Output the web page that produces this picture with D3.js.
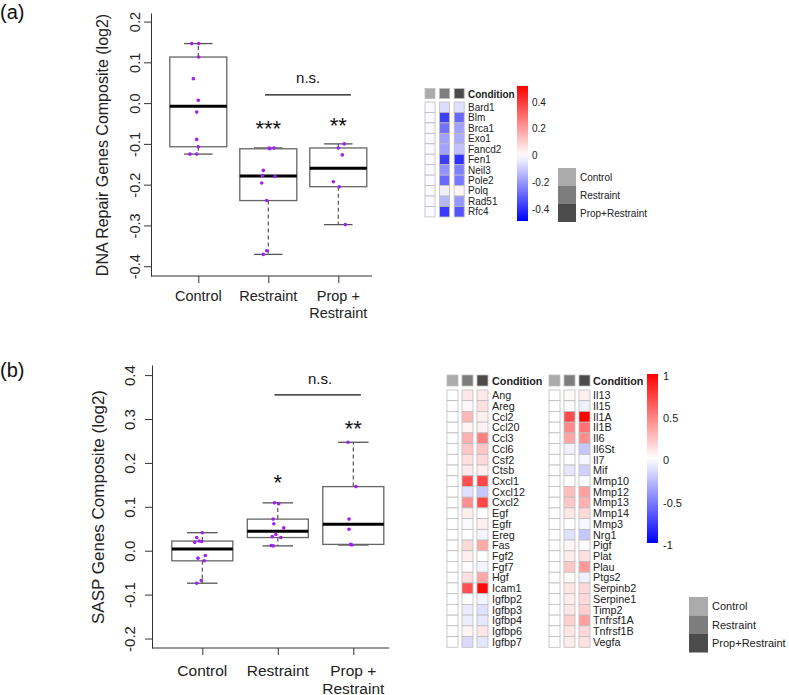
<!DOCTYPE html>
<html><head><meta charset="utf-8">
<script src="https://cdn.jsdelivr.net/npm/d3@7"></script>
<style>body{margin:0;background:#fff}</style>
</head><body><svg id="c" width="789" height="695"></svg>
<script>
// ---------------- DATA ----------------
const groupLabels = [["Control"], ["Restraint"], ["Prop +", "Restraint"]];

// Panel (a): DNA repair composite (log2), per-animal points
const dnaControl   = [0.146, 0.146, 0.113, 0.060, 0.007, -0.022, -0.089, -0.107, -0.125, -0.125];
const dnaRestraint = [-0.110, -0.110, -0.112, -0.165, -0.178, -0.180, -0.196, -0.239, -0.362, -0.371];
const dnaProp      = [-0.100, -0.110, -0.127, -0.193, -0.205, -0.298];
// horizontal jitter of the points (category units)
const dnaJitterControl   = [-0.094, 0.006, 0.006, -0.071, 0, -0.023, -0.023, 0, -0.119, -0.023];
const dnaJitterRestraint = [0.014, 0.081, 0.02, -0.071, -0.086, 0.096, -0.094, -0.023, -0.023, -0.071];
const dnaJitterProp      = [0.086, 0, 0.057, -0.071, 0.014, 0.1];
const dnaTicks = [-0.4, -0.3, -0.2, -0.1, 0.0, 0.1, 0.2];

// Panel (b): SASP composite (log2)
const saspControl   = [0.041, 0.030, 0.022, 0.019, 0.021, -0.011, -0.017, -0.023, -0.068, -0.074];
const saspRestraint = [0.109, 0.107, 0.072, 0.0615, 0.052, 0.037, 0.032, 0.030, 0.012, 0.011];
const saspProp      = [0.247, 0.146, 0.072, 0.049, 0.0144, 0.013];
const saspJitterControl   = [0, -0.074, -0.04, -0.1, -0.008, 0.04, -0.057, 0.026, -0.013, -0.074];
const saspJitterRestraint = [-0.044, 0.013, -0.061, -0.053, 0.079, -0.026, -0.074, 0.04, -0.087, -0.061];
const saspJitterProp      = [-0.07, 0.035, -0.057, -0.057, -0.035, -0.018];
const saspTicks = [-0.2, -0.1, 0.0, 0.1, 0.2, 0.3, 0.4];

// Significance labels
const dnaSig  = ["", "***", "**"];
const saspSig = ["", "*", "**"];

// Heatmap (a)
const dnaGenes = ["Bard1","Blm","Brca1","Exo1","Fancd2","Fen1","Neil3","Pole2","Polq","Rad51","Rfc4"];
const dnaHeatControl   = [-0.01,-0.01,-0.01,-0.01,-0.01,-0.01,-0.01,-0.01,-0.01,-0.01,-0.01];
const dnaHeatRestraint = [-0.067,-0.37,-0.27,-0.18,-0.18,-0.37,-0.21,-0.29,-0.03,-0.14,-0.38];
const dnaHeatProp      = [-0.06,-0.29,-0.18,-0.16,-0.12,-0.40,-0.245,-0.26,0.02,-0.20,-0.33];
const dnaScaleTicks = [0.4, 0.2, 0, -0.2, -0.4];

// Heatmap (b)
const saspGenesLeft  = ["Ang","Areg","Ccl2","Ccl20","Ccl3","Ccl6","Csf2","Ctsb","Cxcl1","Cxcl12","Cxcl2","Egf",
                        "Egfr","Ereg","Fas","Fgf2","Fgf7","Hgf","Icam1","Igfbp2","Igfbp3","Igfbp4","Igfbp6","Igfbp7"];
const saspGenesRight = ["Il13","Il15","Il1A","Il1B","Il6","Il6St","Il7","Mif","Mmp10","Mmp12","Mmp13","Mmp14",
                        "Mmp3","Nrg1","Pigf","Plat","Plau","Ptgs2","Serpinb2","Serpine1","Timp2","Tnfrsf1A","Tnfrsf1B","Vegfa"];
const saspHeatControlLeft    = [0,0,0,0,0,0,0,0,0,0,0,0,0,0,0,0,0,0,0,0,0,0,0,0];
const saspHeatRestraintLeft  = [0.09,0.03,0.28,0.04,0.31,0.22,0.12,0.08,0.69,-0.12,0.44,0.06,
                                -0.02,0.0,0.15,0.06,-0.01,0.12,0.69,0.0,-0.07,-0.07,0.04,-0.15];
const saspHeatPropLeft       = [0.09,0.12,0.06,0.05,0.50,0.22,0.15,0.06,0.72,-0.22,0.72,0.0,
                                0.06,-0.04,0.34,0.0,-0.04,0.34,0.97,-0.04,-0.12,-0.10,0.10,-0.10];
const saspHeatControlRight   = [0,0,0,0,0,0,0,0,0,0,0,0,0,0,0,0,0,0,0,0,0,0,0,0];
const saspHeatRestraintRight = [0.02,-0.02,0.70,0.45,0.35,-0.05,0.0,-0.10,0.0,0.25,0.22,0.10,
                                0.0,-0.12,0.03,0.08,0.22,0.02,0.10,0.08,0.10,0.18,0.10,0.08];
const saspHeatPropRight      = [0.06,-0.06,1.0,0.56,0.44,-0.22,-0.03,-0.18,-0.01,0.37,0.31,0.15,
                                -0.03,-0.22,-0.01,0.12,0.40,-0.06,0.15,0.15,0.18,0.37,0.15,0.12];
const saspScaleTicks = [1, 0.5, 0, -0.5, -1];

const conditionNames  = ["Control", "Restraint", "Prop+Restraint"];
const conditionColors = ["#ababab", "#7d7d7d", "#4b4b4b"];

// ---------------- DRAWING ----------------
const FONT = '"Liberation Sans", Arial, Helvetica, sans-serif';
const svg = d3.select("#c").attr("font-family", FONT);

function fivenum(arr) {
  const x = arr.slice().sort(d3.ascending), n = x.length;
  const n4 = Math.floor((n + 3) / 2) / 2;
  const d = [1, n4, (n + 1) / 2, n + 1 - n4, n];
  return d.map(v => 0.5 * (x[Math.floor(v) - 1] + x[Math.ceil(v) - 1]));
}

function boxPanel(cfg) {
  const g = svg.append("g");
  const y = d3.scaleLinear().domain(cfg.yDomain).range(cfg.yRange);
  const x = d3.scaleLinear().domain([0, 2]).range(cfg.xCenters);

  // panel letter
  g.append("text").attr("x", 0).attr("y", cfg.letterY).attr("font-size", 20).attr("fill", "#111").text(cfg.letter);

  // y axis
  const ya = d3.axisLeft(y).tickValues(cfg.ticks).tickSize(7).tickSizeOuter(0).tickFormat(d => d.toFixed(1));
  const gy = g.append("g").attr("transform", `translate(${cfg.axisX},0)`).call(ya)
    .attr("font-family", FONT).attr("font-size", cfg.tickFs);
  gy.select(".domain").attr("stroke", "#333");
  gy.selectAll(".tick line").attr("stroke", "#333");
  gy.selectAll(".tick text").attr("x", null).attr("dy", null).attr("text-anchor", "middle").attr("fill", "#222")
    .attr("transform", `translate(${cfg.yLabOff},0) rotate(-90)`);

  // y title
  g.append("text").attr("transform", `translate(${cfg.titleX},${cfg.titleY}) rotate(-90)`)
    .attr("text-anchor", "middle").attr("font-size", cfg.titleFs).attr("fill", "#222").text(cfg.title);

  // x axis
  const ax = d3.axisBottom(x).tickValues([0, 1, 2]).tickSize(7).tickSizeOuter(0).tickFormat("");
  const gx = g.append("g").attr("transform", `translate(0,${cfg.yRange[0]})`).call(ax);
  gx.select(".domain").attr("d", `M${cfg.axisX},0H${cfg.axisEnd}`).attr("stroke", "#333");
  gx.selectAll(".tick line").attr("stroke", "#333");
  groupLabels.forEach((lines, i) => {
    lines.forEach((s, k) => {
      g.append("text").attr("x", x(i)).attr("y", cfg.xLabY + k * cfg.xLabGap).attr("text-anchor", "middle")
        .attr("font-size", cfg.xLabFs).attr("fill", "#222").text(s);
    });
  });

  // boxes
  cfg.data.forEach((vals, i) => {
    const [, q1, md, q3] = fivenum(vals);
    const iqr = q3 - q1;
    const lo = d3.min(vals.filter(v => v >= q1 - 1.5 * iqr));
    const hi = d3.max(vals.filter(v => v <= q3 + 1.5 * iqr));
    const cx = x(i), bw = cfg.boxW;
    [[q3, hi], [q1, lo]].forEach(([a, b]) => {
      g.append("line").attr("x1", cx).attr("x2", cx).attr("y1", y(a)).attr("y2", y(b))
        .attr("stroke", "#444").attr("stroke-width", 1.1).attr("stroke-dasharray", "4,3");
      g.append("line").attr("x1", cx - bw / 4).attr("x2", cx + bw / 4).attr("y1", y(b)).attr("y2", y(b))
        .attr("stroke", "#555").attr("stroke-width", 1.3);
    });
    g.append("rect").attr("x", cx - bw / 2).attr("width", bw).attr("y", y(q3)).attr("height", y(q1) - y(q3))
      .attr("fill", "none").attr("stroke", "#666").attr("stroke-width", 1.3);
    g.append("line").attr("x1", cx - bw / 2).attr("x2", cx + bw / 2).attr("y1", y(md)).attr("y2", y(md))
      .attr("stroke", "#000").attr("stroke-width", 3);
  });

  // points
  cfg.data.forEach((vals, i) => {
    g.selectAll(null).data(vals).enter().append("circle")
      .attr("cx", (d, k) => x(i + cfg.jitter[i][k])).attr("cy", d => y(d))
      .attr("r", 1.8).attr("fill", "#a020f0");
  });

  // significance
  cfg.sig.forEach((s, i) => {
    if (!s) return;
    g.append("text").attr("x", x(i)).attr("y", y(cfg.sigY[i])).attr("text-anchor", "middle")
      .attr("font-size", 22).attr("fill", "#111").text(s);
  });
  g.append("line").attr("x1", x(1 + cfg.nsLine[0])).attr("x2", x(2 + cfg.nsLine[1]))
    .attr("y1", y(cfg.nsLineY)).attr("y2", y(cfg.nsLineY)).attr("stroke", "#111").attr("stroke-width", 1.2);
  g.append("text").attr("x", x(1.5 + cfg.nsShift)).attr("y", y(cfg.nsTextY)).attr("text-anchor", "middle")
    .attr("font-size", 15).attr("fill", "#111").text("n.s.");
}

boxPanel({
  letter: "(a)", letterY: 19,
  yDomain: [-0.424, 0.221], yRange: [276, 13], xCenters: [198.3, 338.3],
  axisX: 151, axisEnd: 372, ticks: dnaTicks, tickFs: 14.5, yLabOff: -11,
  title: "DNA Repair Genes Composite (log2)", titleX: 108, titleY: 145, titleFs: 16,
  xLabY: 301, xLabGap: 17, xLabFs: 14.5, boxW: 57,
  data: [dnaControl, dnaRestraint, dnaProp],
  jitter: [dnaJitterControl, dnaJitterRestraint, dnaJitterProp],
  sig: dnaSig, sigY: [0, -0.080, -0.073],
  nsLine: [-0.047, 0.18], nsLineY: 0.020, nsTextY: 0.050, nsShift: 0.07
});

boxPanel({
  letter: "(b)", letterY: 377,
  yDomain: [-0.2216, 0.423], yRange: [648, 365], xCenters: [202.3, 353.3],
  axisX: 152, axisEnd: 389, ticks: saspTicks, tickFs: 15, yLabOff: -17,
  title: "SASP Genes Composite (log2)", titleX: 104, titleY: 507, titleFs: 17,
  xLabY: 676, xLabGap: 17.5, xLabFs: 15.5, boxW: 61,
  data: [saspControl, saspRestraint, saspProp],
  jitter: [saspJitterControl, saspJitterRestraint, saspJitterProp],
  sig: saspSig, sigY: [0, 0.138, 0.261],
  nsLine: [-0.044, 0.10], nsLineY: 0.355, nsTextY: 0.380, nsShift: 0.06
});

// ---- heatmaps ----
function heatBlock(cfg) {
  const g = svg.append("g");
  const x = d3.scaleLinear().domain([0, 2]).range([cfg.x0, cfg.x0 + 2 * cfg.step]);
  const y = d3.scaleBand().domain(cfg.genes).range([cfg.y0, cfg.y0 + cfg.genes.length * cfg.rh]);
  // annotation row
  conditionColors.forEach((c, j) => {
    g.append("rect").attr("x", x(j)).attr("y", cfg.annY).attr("width", cfg.cw).attr("height", cfg.annH)
      .attr("fill", c).attr("stroke", "#bdbdbd").attr("stroke-width", 0.8);
  });
  g.append("text").attr("x", cfg.labelX).attr("y", cfg.annY + cfg.annH - 1).attr("font-size", cfg.fs)
    .attr("font-weight", "bold").attr("fill", "#222").text("Condition");
  cfg.cols.forEach((vals, j) => {
    g.selectAll(null).data(vals).enter().append("rect")
      .attr("x", x(j)).attr("y", (d, k) => y(cfg.genes[k])).attr("width", cfg.cw).attr("height", y.bandwidth())
      .attr("fill", d => cfg.color(d)).attr("stroke", "#bdbdbd").attr("stroke-width", 0.8);
  });
  g.selectAll(null).data(cfg.genes).enter().append("text")
    .attr("x", cfg.labelX).attr("y", d => y(d) + y.bandwidth() / 2).attr("dy", "0.36em")
    .attr("font-size", cfg.fs).attr("fill", "#222").text(d => d);
}

function colorBar(cfg) {
  const id = cfg.id;
  const y = d3.scaleLinear().domain(cfg.domain).range(cfg.range);
  const grad = svg.append("defs").append("linearGradient").attr("id", id)
    .attr("x1", 0).attr("x2", 0).attr("y1", 0).attr("y2", 1);
  const top = cfg.barDomain[1], bot = cfg.barDomain[0];
  d3.range(0, 1.0001, 0.05).forEach(t => {
    grad.append("stop").attr("offset", t).attr("stop-color", cfg.color(top + (bot - top) * t));
  });
  svg.append("rect").attr("x", cfg.x).attr("width", cfg.w).attr("y", y(top)).attr("height", y(bot) - y(top))
    .attr("fill", `url(#${id})`);
  cfg.ticks.forEach(v => {
    svg.append("text").attr("x", cfg.labelX).attr("y", y(v) + cfg.labOff).attr("dy", "0.35em")
      .attr("font-size", cfg.fs).attr("fill", "#222").text(String(v));
  });
}

function condLegend(cfg) {
  conditionNames.forEach((n, i) => {
    svg.append("rect").attr("x", cfg.x).attr("y", cfg.y + i * cfg.h).attr("width", cfg.w).attr("height", cfg.h)
      .attr("fill", conditionColors[i]);
    svg.append("text").attr("x", cfg.x + cfg.w + 4).attr("y", cfg.y + i * cfg.h + cfg.h / 2).attr("dy", "0.35em")
      .attr("font-size", cfg.fs).attr("fill", "#222").text(n);
  });
}

const colorA = d3.scaleLinear().domain([-0.49, 0, 0.52]).range(["#0000ff", "#ffffff", "#ff0000"]).clamp(true);
const colorB = d3.scaleLinear().domain([-1, 0, 1]).range(["#0000ff", "#ffffff", "#ff0000"]).clamp(true);

heatBlock({ genes: dnaGenes, cols: [dnaHeatControl, dnaHeatRestraint, dnaHeatProp], color: colorA,
  x0: 425, step: 14.6, cw: 10, y0: 102, rh: 10.45, annY: 88.5, annH: 10, labelX: 468, fs: 10 });
colorBar({ id: "gA", domain: [-0.4, 0.4], range: [209, 102], barDomain: [-0.49, 0.52], color: colorA,
  x: 517, w: 11, labelX: 532, fs: 10, ticks: dnaScaleTicks, labOff: 0 });
condLegend({ x: 558, y: 168, w: 18, h: 18, fs: 10 });

heatBlock({ genes: saspGenesLeft, cols: [saspHeatControlLeft, saspHeatRestraintLeft, saspHeatPropLeft], color: colorB,
  x0: 447, step: 15, cw: 11, y0: 390, rh: 10.72, annY: 375, annH: 11, labelX: 492, fs: 10.8 });
heatBlock({ genes: saspGenesRight, cols: [saspHeatControlRight, saspHeatRestraintRight, saspHeatPropRight], color: colorB,
  x0: 549, step: 15, cw: 11, y0: 390, rh: 10.72, annY: 375, annH: 11, labelX: 593, fs: 10.8 });
colorBar({ id: "gB", domain: [-1, 1], range: [543, 374], barDomain: [-1, 1], color: colorB,
  x: 647, w: 11, labelX: 663, fs: 11, ticks: saspScaleTicks, labOff: 2 });
condLegend({ x: 689, y: 597, w: 19, h: 18.5, fs: 11 });
</script>
</body></html>
